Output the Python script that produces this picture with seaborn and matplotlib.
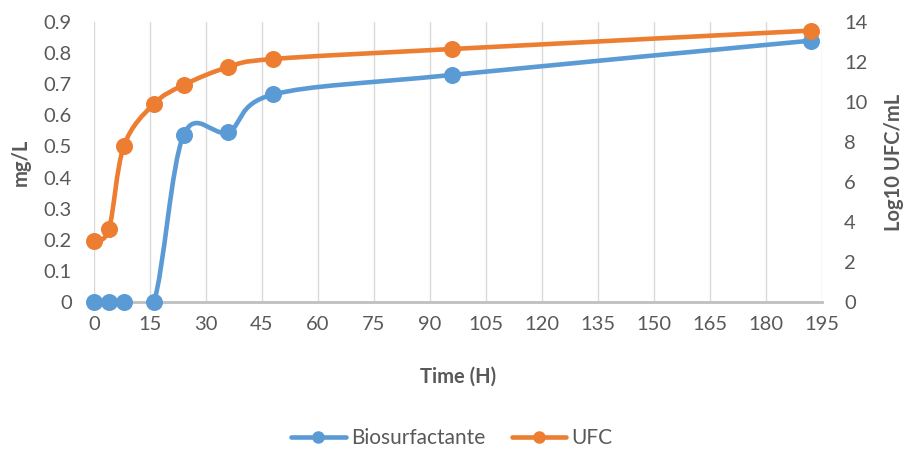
import matplotlib
matplotlib.use("Agg")
import matplotlib.pyplot as plt
import seaborn as sns
import numpy as np
import pandas as pd
from matplotlib.path import Path
from matplotlib.patches import PathPatch
from matplotlib.lines import Line2D

time_h = [0, 4, 8, 16, 24, 36, 48, 96, 192]
biosurfactante = [0, 0, 0, 0, 0.537, 0.547, 0.667, 0.73, 0.84]
ufc = [3.05, 3.65, 7.8, 9.9, 10.85, 11.75, 12.15, 12.65, 13.57]
x_ticks = list(range(0, 196, 15))
left_ticks = [0, 0.1, 0.2, 0.3, 0.4, 0.5, 0.6, 0.7, 0.8, 0.9]
right_ticks = [0, 2, 4, 6, 8, 10, 12, 14]

BLUE = "#5B9BD5"
ORANGE = "#ED7D31"
TXT = "#595959"
FS = 14.5

sns.set_theme(style="white")
plt.rcParams['font.family'] = ['Lato', 'DejaVu Sans']

def smooth_path(xs, ys, k=1/6):
    pts = np.column_stack([xs, ys]).astype(float)
    n = len(pts)
    verts = [pts[0]]
    codes = [Path.MOVETO]
    for i in range(n - 1):
        p0 = pts[i - 1] if i > 0 else pts[i]
        p1 = pts[i]
        p2 = pts[i + 1]
        p3 = pts[i + 2] if i + 2 < n else pts[i + 1]
        c1 = p1 + (p2 - p0) * k
        c2 = p2 - (p3 - p1) * k
        verts += [c1, c2, p2]
        codes += [Path.CURVE4] * 3
    return Path(verts, codes)

fig = plt.figure(figsize=(9.04, 4.51), dpi=100)
ax = fig.add_axes([94/904, 1-302/451, (822-94)/904, (302-22)/451])
ax2 = ax.twinx()

df1 = pd.DataFrame({"t": time_h, "v": biosurfactante})
df2 = pd.DataFrame({"t": time_h, "v": ufc})

ax.add_patch(PathPatch(smooth_path(time_h, biosurfactante), fill=False,
                       edgecolor=BLUE, lw=3.3, capstyle='round', joinstyle='round', zorder=3))
sns.scatterplot(data=df1, x="t", y="v", ax=ax, color=BLUE, s=150, edgecolor=BLUE,
                linewidth=0, zorder=4, clip_on=False)

ax2.add_patch(PathPatch(smooth_path(time_h, ufc), fill=False,
                        edgecolor=ORANGE, lw=3.3, capstyle='round', joinstyle='round', zorder=3))
sns.scatterplot(data=df2, x="t", y="v", ax=ax2, color=ORANGE, s=150, edgecolor=ORANGE,
                linewidth=0, zorder=4, clip_on=False)

ax.set_xlim(0, 195)
ax.set_ylim(0, 0.9)
ax2.set_ylim(0, 14)
ax.set_xticks(x_ticks)
ax.set_xticklabels([str(v) for v in x_ticks])
ax.set_yticks(left_ticks)
ax.set_yticklabels(["0" if v == 0 else f"{v:.1f}" for v in left_ticks])
ax2.set_yticks(right_ticks)
ax2.set_yticklabels([str(v) for v in right_ticks])

ax.xaxis.grid(True, color="#D9D9D9", lw=1.0)
ax.yaxis.grid(False)
ax2.grid(False)
ax.set_axisbelow(True)
for a in (ax, ax2):
    for s in ("top", "left", "right", "bottom"):
        a.spines[s].set_visible(False)
ax.spines["bottom"].set_visible(True)
ax.spines["bottom"].set_color("#BFBFBF")
ax.spines["bottom"].set_linewidth(2.0)
ax.spines["bottom"].set_zorder(2)

ax.tick_params(axis="x", length=0, pad=10, labelsize=FS, labelcolor=TXT)
ax.tick_params(axis="y", length=0, pad=16, labelsize=FS, labelcolor=TXT)
ax2.tick_params(axis="y", length=0, pad=16, labelsize=FS, labelcolor=TXT)

ax.set_xlabel("Time (H)", fontsize=FS, fontweight="bold", color=TXT, labelpad=24)
ax.set_ylabel("mg/L", fontsize=FS, fontweight="bold", color=TXT, labelpad=9)
ax2.set_ylabel("Log10 UFC/mL", fontsize=FS, fontweight="bold", color=TXT, labelpad=12)

handles = [Line2D([0], [0], color=BLUE, lw=3.3, marker='o', markersize=8),
           Line2D([0], [0], color=ORANGE, lw=3.3, marker='o', markersize=8)]
fig.legend(handles, ["Biosurfactante", "UFC"], loc="center", bbox_to_anchor=(0.5, 1-438/451),
           ncol=2, frameon=False, fontsize=15, labelcolor=TXT, handlelength=2.6,
           columnspacing=1.3, handletextpad=0.25)

fig.savefig("out.png", dpi=100)
